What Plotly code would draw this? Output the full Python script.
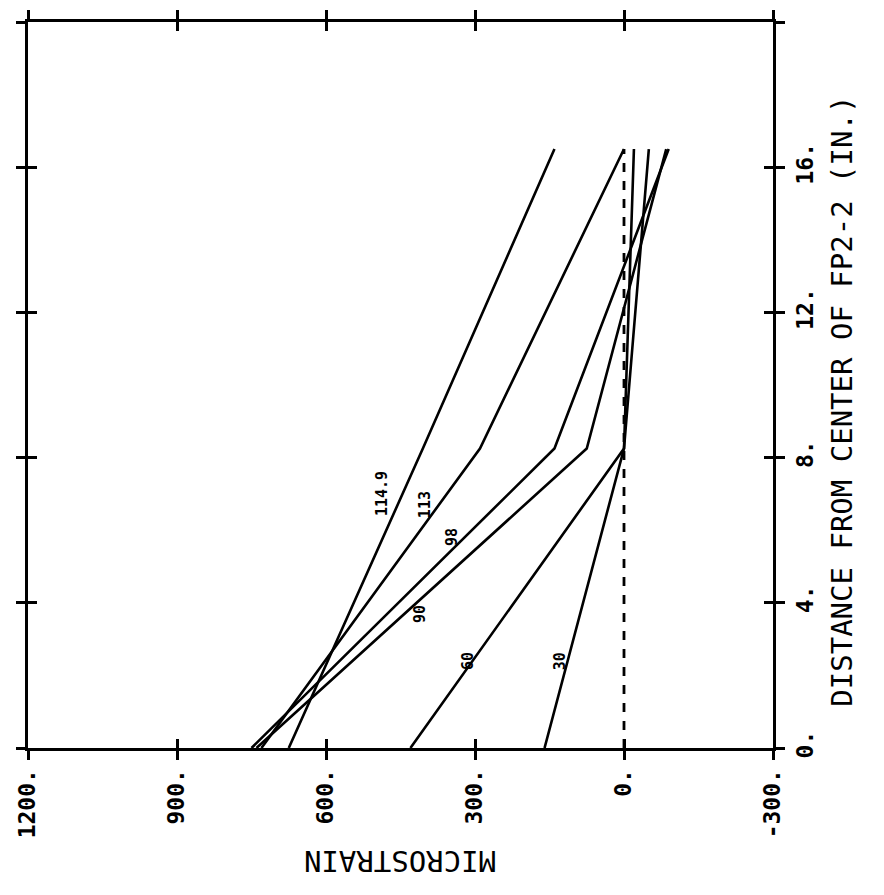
import plotly.graph_objects as go

# Gauge locations (distance from center, in.)
distance = [0.0, 8.25, 16.5]

# Microstrain readings for each load level
series_names = ["114.9", "113", "98", "90", "60", "30"]
strain_1149 = [675, 405, 140]
strain_113 = [730, 290, 0]
strain_98 = [750, 140, -90]
strain_90 = [740, 75, -85]
strain_60 = [430, 0, -50]
strain_30 = [160, 0, -20]
series_values = [strain_1149, strain_113, strain_98, strain_90, strain_60, strain_30]

# Label anchor positions along the curves (microstrain, distance)
label_strain = [487, 402, 345, 412, 314, 130]
label_dist = [7.0, 6.7, 5.8, 3.7, 2.4, 2.4]

# Zero reference line
zero_dist = [0.0, 16.5]
zero_strain = [0, 0]

# Axis ticks
x_ticks = [1200, 900, 600, 300, 0, -300]
x_ticktext = ["1200.", "900.", "600.", "300.", "0.", "-300."]
y_ticks = [0, 4, 8, 12, 16, 20]
y_ticktext = ["0.", "4.", "8.", "12.", "16.", "20."]

FONT = "DejaVu Sans Mono"

fig = go.Figure()
for name, vals in zip(series_names, series_values):
    fig.add_trace(go.Scatter(x=vals, y=distance, mode="lines",
                             line=dict(color="black", width=2.6),
                             name=name, showlegend=False, hoverinfo="skip"))
fig.add_trace(go.Scatter(x=zero_strain, y=zero_dist, mode="lines",
                         line=dict(color="black", width=2.8, dash="dash"),
                         showlegend=False, hoverinfo="skip"))
# invisible trace on overlay axes (for crossing ticks)
fig.add_trace(go.Scatter(x=[0], y=[0], xaxis="x2", yaxis="y2", mode="markers",
                         marker=dict(opacity=0), showlegend=False, hoverinfo="skip"))

for name, xs, ys in zip(series_names, label_strain, label_dist):
    fig.add_annotation(x=xs, y=ys, text="<b>" + name + "</b>", textangle=-90,
                       showarrow=False,
                       font=dict(family=FONT, size=15, color="black"))

axis_common = dict(showgrid=False, zeroline=False, ticklen=9, tickwidth=2.5,
                   tickcolor="black")

fig.update_layout(
    width=884, height=895,
    margin=dict(l=28, r=111, t=10, b=147),
    paper_bgcolor="white", plot_bgcolor="white",
    xaxis=dict(range=[1200, -300], tickvals=x_ticks, ticktext=x_ticktext,
               tickangle=-90, ticks="outside", mirror="ticks", showline=True,
               linecolor="black", linewidth=2.8,
               tickfont=dict(family=FONT, size=23, color="black", weight="bold"),
               **axis_common),
    yaxis=dict(range=[0, 20], tickvals=y_ticks, ticktext=y_ticktext, side="right",
               tickangle=-90, ticks="outside", mirror="ticks", showline=True,
               linecolor="black", linewidth=2.8,
               tickfont=dict(family=FONT, size=23, color="black", weight="bold"),
               **axis_common),
    xaxis2=dict(range=[1200, -300], tickvals=x_ticks, overlaying="x", side="bottom",
                anchor="y2", ticks="inside", mirror="ticks", showticklabels=False,
                showline=False, **axis_common),
    yaxis2=dict(range=[0, 20], tickvals=y_ticks, overlaying="y", side="right",
                anchor="x2", ticks="inside", mirror="ticks", showticklabels=False,
                showline=False, **axis_common),
)

fig.add_annotation(xref="paper", yref="paper", x=0.5, y=0, yshift=-132,
                   text="MICROSTRAIN", textangle=180, showarrow=False,
                   font=dict(family=FONT, size=29, color="black"))
fig.add_annotation(xref="paper", yref="paper", x=1, xshift=88, y=0.477,
                   text="DISTANCE FROM CENTER OF FP2-2 (IN.)", textangle=-90,
                   showarrow=False, font=dict(family=FONT, size=29, color="black"))

fig.write_html("out.html")
